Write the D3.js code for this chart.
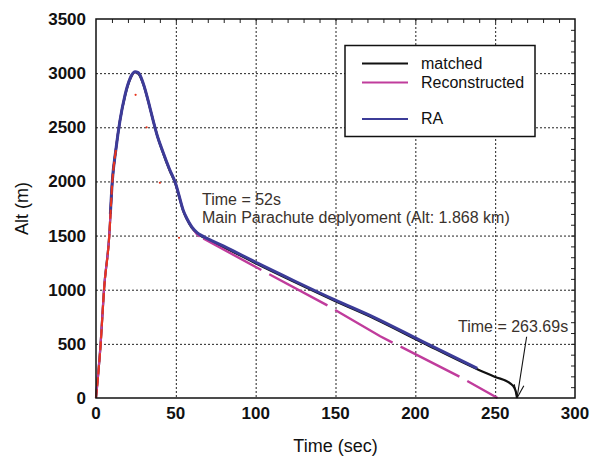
<!DOCTYPE html>
<html>
<head>
<meta charset="utf-8">
<script src="https://cdn.jsdelivr.net/npm/d3@7"></script>
<style>
  body { margin: 0; background: #fff; }
  svg { display: block; }
  text { font-family: Arial, "Liberation Sans", sans-serif; }
</style>
</head>
<body>
<svg id="chart" width="592" height="461"></svg>
<script>
// Flight altitude profile: time (s) vs altitude (m)
const xTicks = [0, 50, 100, 150, 200, 250, 300];
const yTicks = [0, 500, 1000, 1500, 2000, 2500, 3000, 3500];

// matched trajectory
const matchedTime = [0, 1, 2.9, 5, 8.3, 10.2, 12.5, 15, 18.2, 21.3, 24.4, 26.5, 29.8, 34, 36.2, 38.2, 42, 46, 50, 52, 54.6, 57, 60, 63.5, 66.6, 80, 101.2, 125, 149.6, 174.8, 204, 238.8, 250, 259.8, 262, 263, 263.69];
const matchedAlt  = [0, 160, 500, 1000, 1500, 2000, 2300, 2560, 2790, 2940, 3010, 2995, 2890, 2665, 2540, 2430, 2262, 2105, 1965, 1862, 1727, 1648, 1572, 1518, 1488, 1393, 1235, 1066, 896, 730, 515, 266, 195, 130, 95, 55, 0];

// reconstructed trajectory: solid through the knee, dashed afterwards
const reconTime = [0, 1, 2.9, 5, 8.3, 10.2, 12.5, 15, 18.2, 21.3, 24.4, 26.5, 29.6, 33.8, 36, 38, 42, 46, 50, 52, 54.6, 57, 60, 63, 65];
const reconAlt  = [0, 160, 500, 1000, 1500, 2000, 2300, 2560, 2800, 2950, 3012, 3005, 2905, 2680, 2550, 2440, 2270, 2115, 1975, 1870, 1735, 1655, 1578, 1515, 1490];
const reconTailTime = [65, 104.6, 144.3, 178, 228, 251.5];
const reconTailAlt  = [1490, 1174, 860, 570, 195, 0];

// radar altimeter
const raTime = [9, 10.2, 12.5, 15, 18.2, 21.3, 24.4, 26.5, 29.6, 33.8, 36, 38, 42, 46, 50, 52, 54.6, 57, 60, 63.5, 66.6, 80, 101.2, 125, 149.6, 174.8, 204, 238.8];
const raAlt  = [1700, 2000, 2300, 2560, 2800, 2950, 3012, 3005, 2905, 2680, 2550, 2440, 2270, 2115, 1975, 1870, 1735, 1655, 1580, 1525, 1497, 1403, 1245, 1076, 906, 740, 525, 274];

// red estimate: ascent trace and scattered samples
const redTime = [0, 1, 2.9, 5, 8.3, 10.2, 12.5];
const redAlt  = [0, 150, 490, 990, 1490, 1990, 2290];
const redDotTime = [24.8, 31.7, 40, 52];
const redDotAlt  = [2800, 2500, 1988, 1480];

const legendNames  = ["matched", "Reconstructed", "RA"];
const legendColors = ["#111111", "#c03c9c", "#3c3c98"];

const svg = d3.select("#chart");
const x = d3.scaleLinear().domain([0, 300]).range([96, 575]);
const y = d3.scaleLinear().domain([0, 3500]).range([398, 19]);
const [x0, x1] = x.range();
const [y0, y1] = y.range();

// dotted grid
const grid = svg.append("g").attr("stroke", "#222").attr("stroke-width", 1).attr("stroke-dasharray", "2,2");
xTicks.slice(1, -1).forEach(t => grid.append("line")
  .attr("x1", x(t) + 0.5).attr("x2", x(t) + 0.5).attr("y1", y1).attr("y2", y0));
yTicks.slice(1, -1).forEach(t => grid.append("line")
  .attr("x1", x0).attr("x2", x1).attr("y1", y(t) + 0.5).attr("y2", y(t) + 0.5));

// minor ticks on top and right edges
const minor = svg.append("g").attr("stroke", "#222").attr("stroke-width", 1);
d3.range(10, 300, 10).forEach(t => minor.append("line")
  .attr("x1", x(t) + 0.5).attr("x2", x(t) + 0.5).attr("y1", y1).attr("y2", y1 + 4));
d3.range(100, 3500, 100).forEach(t => minor.append("line")
  .attr("x1", x1 - 4).attr("x2", x1).attr("y1", y(t) + 0.5).attr("y2", y(t) + 0.5));

const zip = (ts, as) => ts.map((t, i) => [t, as[i]]);
const line = d3.line().x(d => x(d[0])).y(d => y(d[1])).curve(d3.curveMonotoneX);

svg.append("path").datum(zip(matchedTime, matchedAlt)).attr("d", line)
  .attr("fill", "none").attr("stroke", legendColors[0]).attr("stroke-width", 2.2);
svg.append("path").datum(zip(reconTime, reconAlt)).attr("d", line)
  .attr("fill", "none").attr("stroke", legendColors[1]).attr("stroke-width", 2.2);
svg.append("path").datum(zip(reconTailTime, reconTailAlt)).attr("d", d3.line().x(d => x(d[0])).y(d => y(d[1])))
  .attr("fill", "none").attr("stroke", legendColors[1]).attr("stroke-width", 2.4)
  .attr("stroke-dasharray", "66,9").attr("stroke-dashoffset", -4);
svg.append("path").datum(zip(raTime, raAlt)).attr("d", line)
  .attr("fill", "none").attr("stroke", legendColors[2]).attr("stroke-width", 3)
  .attr("stroke-linejoin", "round");
svg.append("path").datum(zip(redTime, redAlt)).attr("d", line)
  .attr("fill", "none").attr("stroke", "#e8341c").attr("stroke-width", 2)
  .attr("stroke-dasharray", "9,3");
svg.append("g").selectAll("circle").data(zip(redDotTime, redDotAlt)).join("circle")
  .attr("cx", d => x(d[0])).attr("cy", d => y(d[1])).attr("r", 1.1).attr("fill", "#e8341c");

// frame
svg.append("rect").attr("x", x0).attr("y", y1).attr("width", x1 - x0).attr("height", y0 - y1)
  .attr("fill", "none").attr("stroke", "#111").attr("stroke-width", 1.5);

// tick labels
svg.append("g").selectAll("text").data(xTicks).join("text")
  .attr("x", d => x(d)).attr("y", 419).attr("text-anchor", "middle")
  .attr("font-size", 17).attr("font-weight", "bold").attr("fill", "#111").text(d => d);
svg.append("g").selectAll("text").data(yTicks).join("text")
  .attr("x", 86).attr("y", d => y(d) + 6).attr("text-anchor", "end")
  .attr("font-size", 17).attr("font-weight", "bold").attr("fill", "#111").text(d => d);

// axis titles
svg.append("text").attr("x", (x0 + x1) / 2).attr("y", 452).attr("text-anchor", "middle")
  .attr("font-size", 18).attr("fill", "#111").text("Time (sec)");
svg.append("text").attr("transform", `translate(28,${(y0 + y1) / 2}) rotate(-90)`)
  .attr("text-anchor", "middle").attr("font-size", 18).attr("fill", "#111").text("Alt (m)");

// annotations
const note = svg.append("g").attr("font-size", 16).attr("fill", "#3a322c");
note.append("text").attr("x", 202).attr("y", 205).text("Time = 52s");
note.append("text").attr("x", 202).attr("y", 223).text("Main Parachute deplyoment (Alt: 1.868 km)");
note.append("text").attr("x", 458).attr("y", 332).text("Time = 263.69s");

// arrow to touchdown
const tip = [x(263.69), y(0)];
const tail = [x(269.7), y(566)];
const ang = Math.atan2(tip[1] - tail[1], tip[0] - tail[0]);
const arrow = svg.append("g").attr("stroke", "#111").attr("stroke-width", 1.1).attr("fill", "none");
arrow.append("line").attr("x1", tail[0]).attr("y1", tail[1]).attr("x2", tip[0]).attr("y2", tip[1]);
[-0.35, 0.35].forEach(da => arrow.append("line")
  .attr("x1", tip[0]).attr("y1", tip[1])
  .attr("x2", tip[0] - 14 * Math.cos(ang + da)).attr("y2", tip[1] - 14 * Math.sin(ang + da)));

// legend
const lg = svg.append("g");
lg.append("rect").attr("x", 345).attr("y", 45.5).attr("width", 190).attr("height", 91)
  .attr("fill", "#fff").attr("stroke", "#111").attr("stroke-width", 1.5);
const legendY = [63.5, 82.5, 119];
legendNames.forEach((name, i) => {
  lg.append("line").attr("x1", 362).attr("x2", 408).attr("y1", legendY[i]).attr("y2", legendY[i])
    .attr("stroke", legendColors[i]).attr("stroke-width", 2.2);
  lg.append("text").attr("x", 421).attr("y", legendY[i] + 5).attr("font-size", 16)
    .attr("fill", "#111").text(name);
});
</script>
</body>
</html>
